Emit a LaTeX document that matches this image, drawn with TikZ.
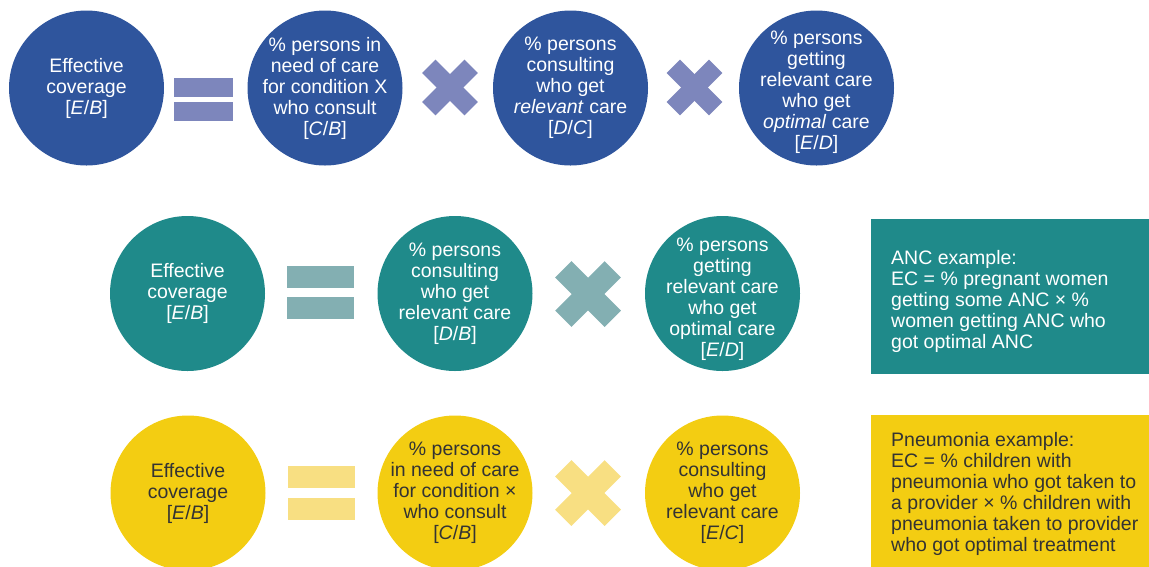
\documentclass[tikz,border=0pt]{standalone}
\usepackage{fontspec}
\setmainfont{Liberation Sans}
\definecolor{cblue}{HTML}{2F559D}
\definecolor{cblueL}{HTML}{7D86BC}
\definecolor{cteal}{HTML}{1F8A8A}
\definecolor{ctealL}{HTML}{83AFB2}
\definecolor{cyel}{HTML}{F3CD12}
\definecolor{cyelL}{HTML}{F8DF82}
\definecolor{cdark}{HTML}{333333}
\begin{document}
\begin{tikzpicture}[x=1pt,y=-1pt,
  txt/.style={font=\fontsize{19.5}{21}\selectfont},
  circ/.style={circle, minimum size=155pt, inner sep=-25pt, align=center, txt},
  bluec/.style={circ, fill=cblue, text=white},
  tealc/.style={circ, fill=cteal, text=white},
  yelc/.style={circ, fill=cyel, text=cdark},
  eqbarS/.style={rectangle, inner sep=0pt, minimum width=59pt, minimum height=19pt},
  eqbarL/.style={rectangle, inner sep=0pt, minimum width=67pt, minimum height=22pt},
  xbarS/.style={rectangle, inner sep=0pt, minimum width=60pt, minimum height=19pt},
  xbarL/.style={rectangle, inner sep=0pt, minimum width=70pt, minimum height=23pt},
  boxtxt/.style={txt, anchor=north west, inner sep=0pt, align=left}
]
\useasboundingbox (0,0) rectangle (1149,566);

% ---------- Row 1 ----------
\node[bluec] (r1a) at (86.5,88) {Effective\\coverage\\{[}\textit{E}/\textit{B}{]}};
\node[eqbarS, fill=cblueL] (r1e1) at (203.5,87.5) {};
\node[eqbarS, fill=cblueL] (r1e2) at (203.5,111.5) {};
\node[bluec] (r1b) at (325,88) {\% persons in\\need of care\\for condition X\\who consult\\{[}\textit{C}/\textit{B}{]}};
\node[xbarS, fill=cblueL, rotate=45] (r1x1a) at (450,87.5) {};
\node[xbarS, fill=cblueL, rotate=-45] (r1x1b) at (450,87.5) {};
\node[bluec] (r1c) at (570.5,88) {\% persons\\consulting\\who get\\\textit{relevant} care\\{[}\textit{D}/\textit{C}{]}};
\node[xbarS, fill=cblueL, rotate=45] (r1x2a) at (694.5,87.5) {};
\node[xbarS, fill=cblueL, rotate=-45] (r1x2b) at (694.5,87.5) {};
\node[bluec] (r1d) at (816.5,88) {};
\node[txt, text=white, align=center] (r1dt) at (816.5,92) {\% persons\\getting\\relevant care\\who get\\\textit{optimal} care\\{[}\textit{E}/\textit{D}{]}};

% ---------- Row 2 ----------
\node[tealc] (r2a) at (187.5,293.5) {Effective\\coverage\\{[}\textit{E}/\textit{B}{]}};
\node[eqbarL, fill=ctealL] (r2e1) at (320.5,277) {};
\node[eqbarL, fill=ctealL] (r2e2) at (320.5,308) {};
\node[tealc] (r2b) at (455,293.5) {\% persons\\consulting\\who get\\relevant care\\{[}\textit{D}/\textit{B}{]}};
\node[xbarL, fill=ctealL, rotate=45] (r2xa) at (588,294) {};
\node[xbarL, fill=ctealL, rotate=-45] (r2xb) at (588,294) {};
\node[tealc] (r2c) at (722.5,293.5) {};
\node[txt, text=white, align=center] (r2ct) at (722.5,299) {\% persons\\getting\\relevant care\\who get\\optimal care\\{[}\textit{E}/\textit{D}{]}};
\node[rectangle, fill=cteal, inner sep=0pt, minimum width=278pt, minimum height=155pt, anchor=north west] (anc) at (871,219) {};
\node[boxtxt, text=white] (anctxt) at (891,250) {ANC example:\\EC = \% pregnant women\\getting some ANC × \%\\women getting ANC who\\got optimal ANC};

% ---------- Row 3 ----------
\node[yelc] (r3a) at (188,493) {Effective\\coverage\\{[}\textit{E}/\textit{B}{]}};
\node[eqbarL, fill=cyelL] (r3e1) at (321.5,477) {};
\node[eqbarL, fill=cyelL] (r3e2) at (321.5,509) {};
\node[yelc] (r3b) at (455,493) {\% persons\\in need of care\\for condition ×\\who consult\\{[}\textit{C}/\textit{B}{]}};
\node[xbarL, fill=cyelL, rotate=45] (r3xa) at (588,493) {};
\node[xbarL, fill=cyelL, rotate=-45] (r3xb) at (588,493) {};
\node[yelc] (r3c) at (722.5,493) {\% persons\\consulting\\who get\\relevant care\\{[}\textit{E}/\textit{C}{]}};
\node[rectangle, fill=cyel, inner sep=0pt, minimum width=278pt, minimum height=160pt, anchor=north west] (pneu) at (871,415) {};
\node[boxtxt, text=cdark] (pneutxt) at (891,432) {Pneumonia example:\\EC = \% children with\\pneumonia who got taken to\\a provider × \% children with\\pneumonia taken to provider\\who got optimal treatment};
\end{tikzpicture}
\end{document}
